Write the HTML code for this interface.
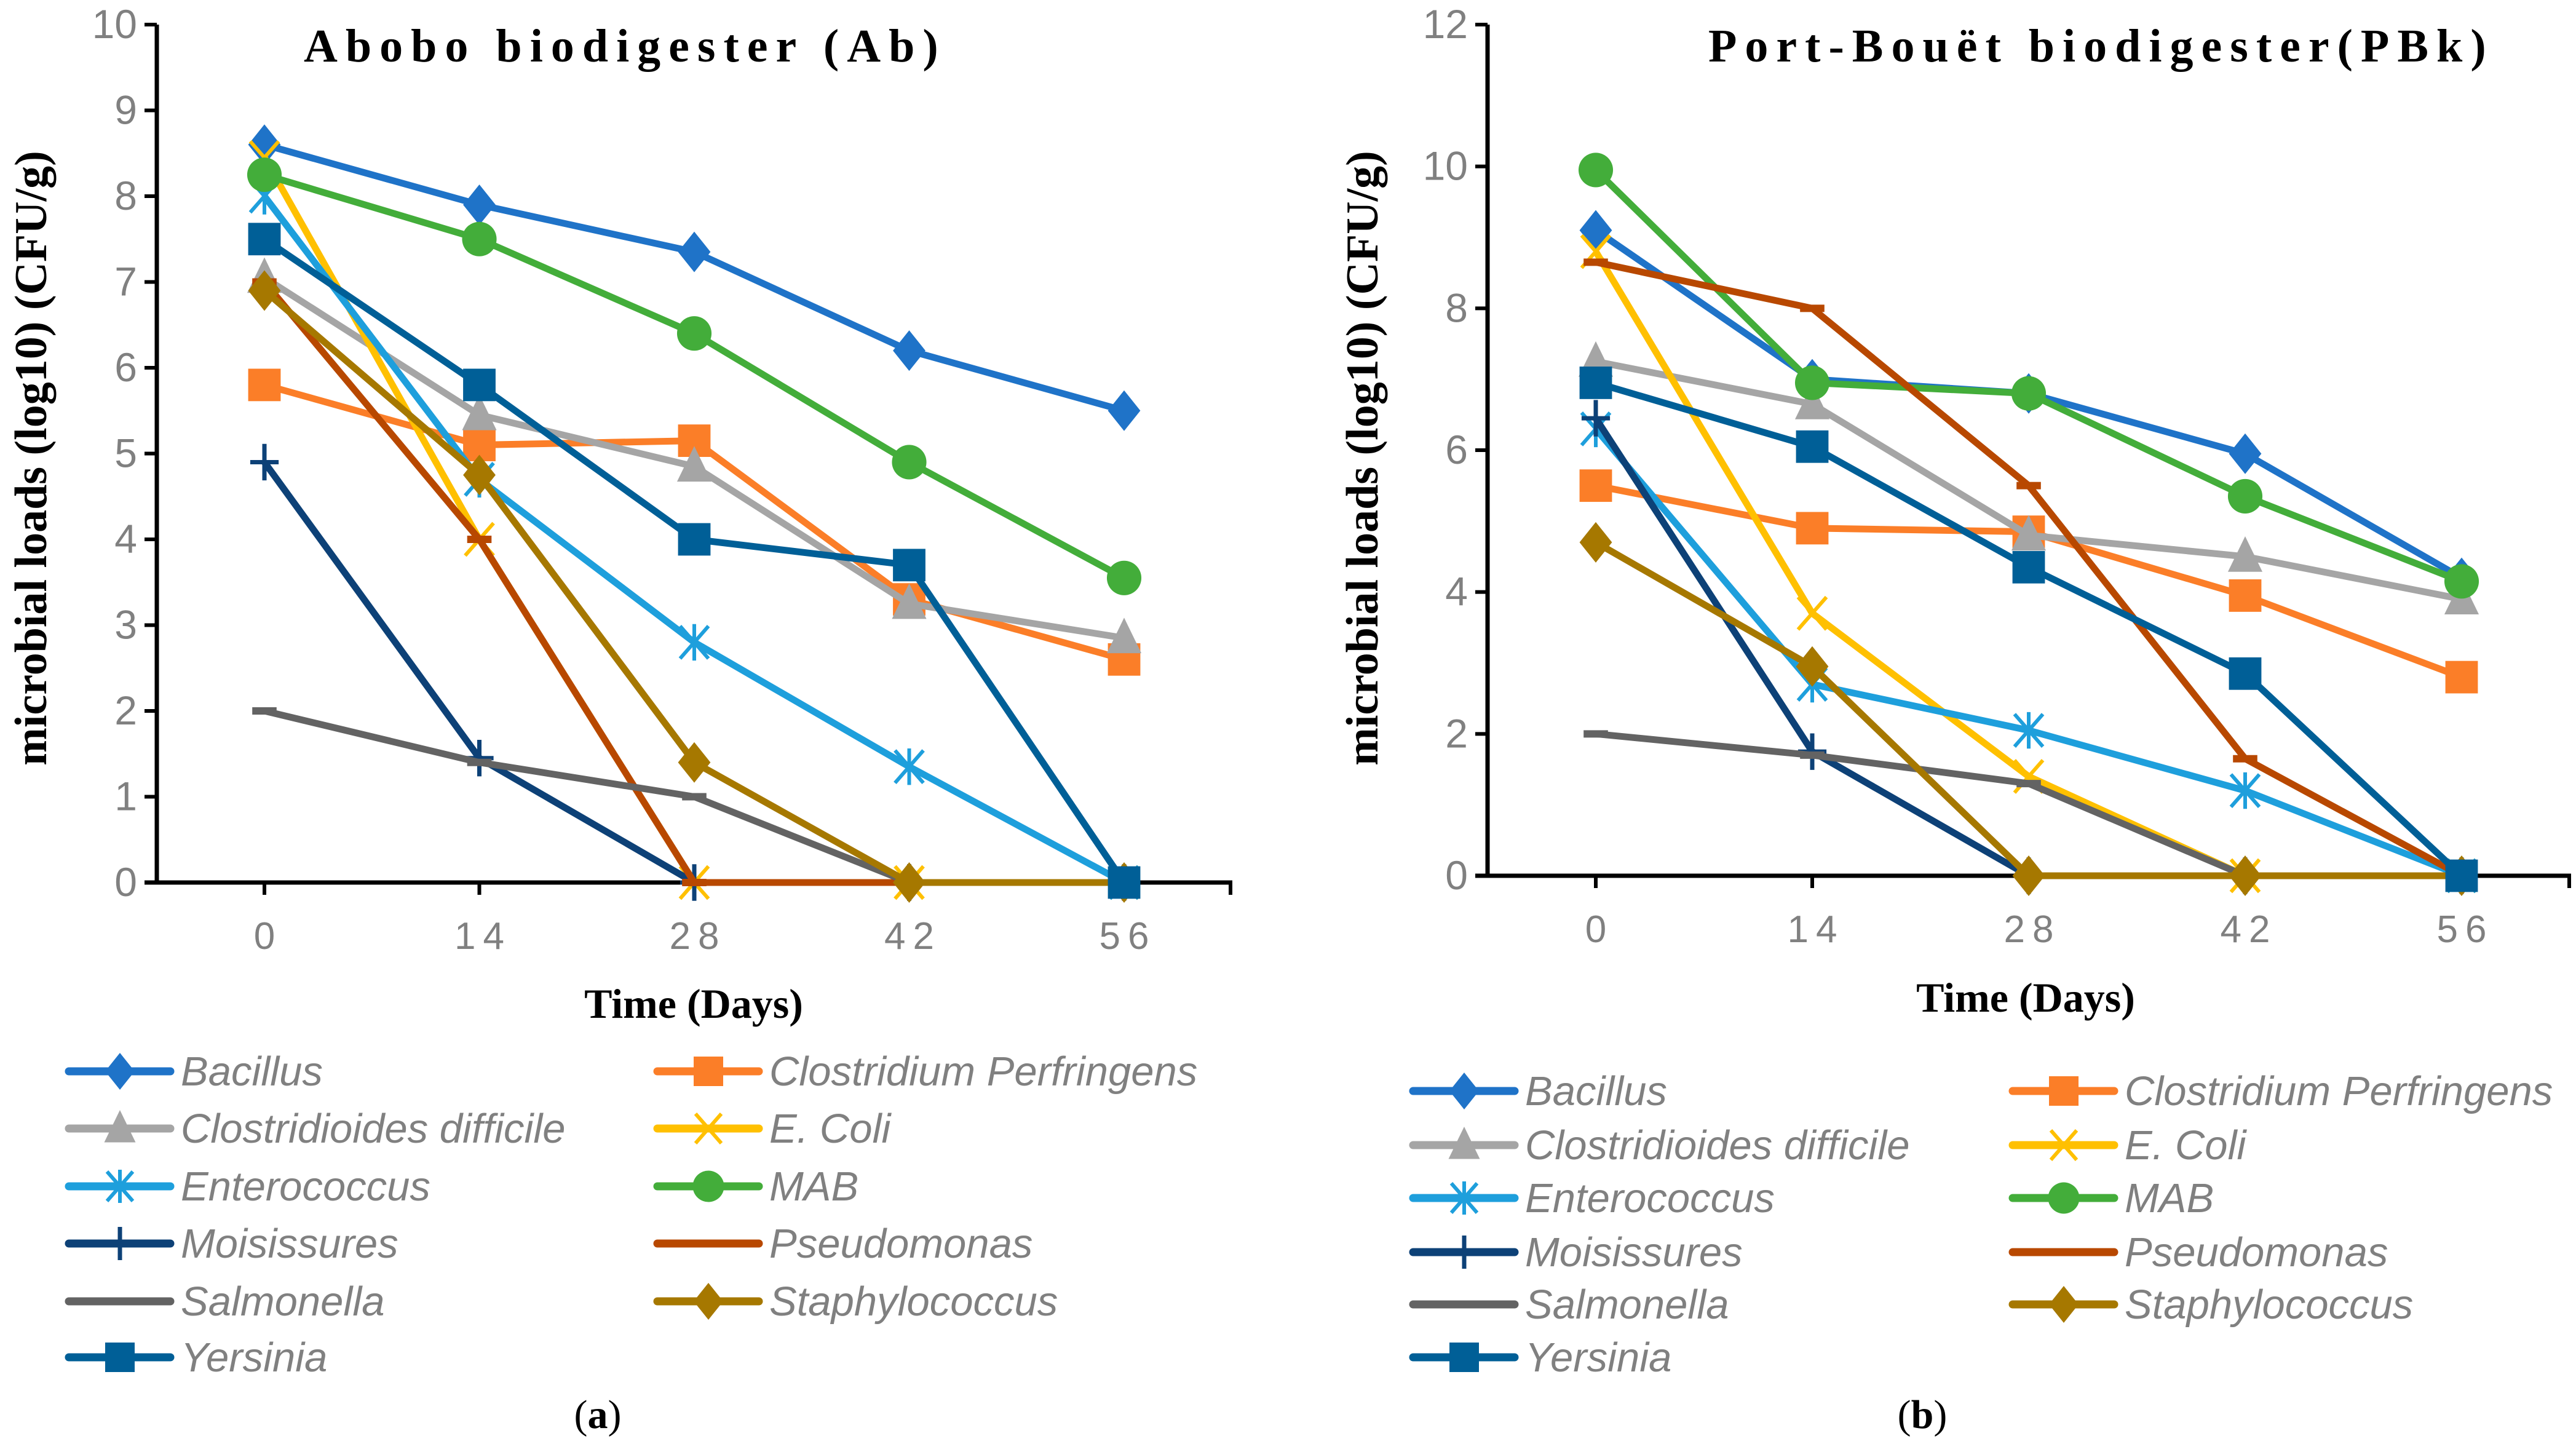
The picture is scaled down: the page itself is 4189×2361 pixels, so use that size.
<!DOCTYPE html>
<html><head><meta charset="utf-8"><style>
html,body{margin:0;padding:0;background:#fff}
svg{display:block}
</style></head><body>
<svg id="chart" width="4189" height="2361" viewBox="0 0 4189 2361" xmlns="http://www.w3.org/2000/svg"></svg>
<script>
const categories = [0, 14, 28, 42, 56];
const seriesNames = ["Bacillus","Clostridium Perfringens","Clostridioides difficile","E. Coli","Enterococcus","MAB","Moisissures","Pseudomonas","Salmonella","Staphylococcus","Yersinia"];
const abBacillus = [8.6, 7.9, 7.35, 6.2, 5.5];
const abClostridium = [5.8, 5.1, 5.15, 3.3, 2.6];
const abClostridioides = [7.05, 5.45, 4.85, 3.25, 2.85];
const abEcoli = [8.45, 4.0, 0, 0, 0];
const abEnterococcus = [8.0, 4.7, 2.8, 1.35, 0];
const abMAB = [8.25, 7.5, 6.4, 4.9, 3.55];
const abMoisissures = [4.9, 1.45, 0, 0, 0];
const abPseudomonas = [7.0, 4.0, 0, 0, 0];
const abSalmonella = [2.0, 1.4, 1.0, 0, 0];
const abStaph = [6.9, 4.75, 1.4, 0, 0];
const abYersinia = [7.5, 5.8, 4.0, 3.7, 0];
const pbBacillus = [9.1, 7.0, 6.8, 5.95, 4.2];
const pbClostridium = [5.5, 4.9, 4.85, 3.95, 2.8];
const pbClostridioides = [7.25, 6.65, 4.8, 4.5, 3.9];
const pbEcoli = [8.8, 3.7, 1.4, 0, 0];
const pbEnterococcus = [6.3, 2.7, 2.05, 1.2, 0];
const pbMAB = [9.95, 6.95, 6.8, 5.35, 4.15];
const pbMoisissures = [6.45, 1.75, 0, 0, 0];
const pbPseudomonas = [8.65, 8.0, 5.5, 1.65, 0];
const pbSalmonella = [2.0, 1.7, 1.3, 0, 0];
const pbStaph = [4.7, 2.95, 0, 0, 0];
const pbYersinia = [6.95, 6.05, 4.35, 2.85, 0];
const abTicks = [0,1,2,3,4,5,6,7,8,9,10];
const pbTicks = [0,2,4,6,8,10,12];

const colors = ["#1f73c8","#fb7e28","#a5a5a5","#ffc000","#1e9fdc","#43ad3a","#0d4177","#b84800","#636363","#a67800","#005f97"];
const markers = ["diamond","square","triangle","x","star","circle","plus","dash","dash","diamond","square"];

const NS = "http://www.w3.org/2000/svg";
const svg = document.getElementById("chart");
function el(tag, attrs, parent, text){
  const e = document.createElementNS(NS, tag);
  for (const k in attrs) e.setAttribute(k, attrs[k]);
  if (text !== undefined) e.textContent = text;
  (parent || svg).appendChild(e);
  return e;
}

function marker(g, type, x, y, c, s){
  let m;
  if (type==="diamond") m = el("polygon",{points:`${x},${y-s} ${x+s*0.8},${y} ${x},${y+s} ${x-s*0.8},${y}`,fill:c},g);
  else if (type==="square") m = el("rect",{x:x-s*0.8,y:y-s*0.8,width:s*1.6,height:s*1.6,fill:c},g);
  else if (type==="circle") m = el("circle",{cx:x,cy:y,r:s*0.85,fill:c},g);
  else if (type==="triangle") m = el("polygon",{points:`${x},${y-s} ${x+s*0.85},${y+s*0.75} ${x-s*0.85},${y+s*0.75}`,fill:c},g);
  else if (type==="x") m = el("path",{d:`M${x-s*0.7},${y-s*0.8}L${x+s*0.7},${y+s*0.8}M${x+s*0.7},${y-s*0.8}L${x-s*0.7},${y+s*0.8}`,stroke:c,"stroke-width":6,fill:"none"},g);
  else if (type==="star") m = el("path",{d:`M${x-s*0.7},${y-s*0.8}L${x+s*0.7},${y+s*0.8}M${x+s*0.7},${y-s*0.8}L${x-s*0.7},${y+s*0.8}M${x},${y-s*0.9}L${x},${y+s*0.9}`,stroke:c,"stroke-width":6,fill:"none"},g);
  else if (type==="plus") m = el("path",{d:`M${x-s*0.7},${y}L${x+s*0.7},${y}M${x},${y-s*0.9}L${x},${y+s*0.9}`,stroke:c,"stroke-width":7,fill:"none"},g);
  else if (type==="dash") m = el("path",{d:`M${x-s*0.6},${y}L${x+s*0.6},${y}`,stroke:c,"stroke-width":12,fill:"none"},g);
  return m;
}

function drawChart(cfg){
  const g = el("g",{});
  
  
  const xS = v => cfg.x0 + (cfg.x1 - cfg.x0) * categories.indexOf(v) / (categories.length - 1);
  const yS = v => cfg.yBottom - (cfg.yBottom - cfg.yTop) * v / cfg.yMax;
  const ya = el("line",{x1:cfg.axisX,y1:yS(cfg.yMax),x2:cfg.axisX,y2:cfg.yBottom,stroke:"#000","stroke-width":7},g);
  
  
  const xa = el("line",{x1:cfg.axisX-20,y1:cfg.yBottom,x2:cfg.axisEnd,y2:cfg.yBottom,stroke:"#000","stroke-width":7},g);
  
  
  cfg.ticks.forEach(t=>{
    el("line",{x1:cfg.axisX-20,y1:yS(t),x2:cfg.axisX,y2:yS(t),stroke:"#000","stroke-width":6},g);
    const tl = el("text",{x:cfg.axisX-32,y:yS(t)+22,"text-anchor":"end","font-family":"Liberation Sans Narrow, Liberation Sans, sans-serif","font-size":66,fill:"#808080"},g,String(t));
    
    
  });
  categories.forEach(c=>{
    el("line",{x1:xS(c),y1:cfg.yBottom,x2:xS(c),y2:cfg.yBottom+20,stroke:"#000","stroke-width":6},g);
    const tl = el("text",{x:xS(c)+6,y:cfg.yBottom+108,"text-anchor":"middle","font-family":"Liberation Sans, sans-serif","font-size":62,fill:"#808080","letter-spacing":12},g,String(c));
    
    
  });
  el("line",{x1:cfg.axisEnd-3,y1:cfg.yBottom,x2:cfg.axisEnd-3,y2:cfg.yBottom+20,stroke:"#000","stroke-width":6},g);
  cfg.data.forEach((arr,i)=>{
    const sg = el("g",{},g);
    
    
    const pts = arr.map((v,j)=>xS(categories[j])+","+yS(v)).join(" ");
    el("polyline",{points:pts,fill:"none",stroke:colors[i],"stroke-width":11,"stroke-linejoin":"round"},sg);
    arr.forEach((v,j)=>{
      const m = marker(sg, markers[i], xS(categories[j]), yS(v), colors[i], 33);
      
      
    });
  });
  const t = el("text",{x:cfg.titleX,y:100,"font-family":"Liberation Serif, serif","font-weight":"bold","font-size":76,"letter-spacing":cfg.titleLS,fill:"#000"},g,cfg.title);
  
  
  const xl = el("text",{x:cfg.xLabelX,y:cfg.xLabelY,"text-anchor":"middle","font-family":"Liberation Serif, serif","font-weight":"bold","font-size":68,fill:"#000"},g,"Time (Days)");
  
  
  const yl = el("text",{x:0,y:0,transform:`translate(${cfg.yLabelX},${cfg.yLabelY}) rotate(-90)`,"text-anchor":"middle","font-family":"Liberation Serif, serif","font-weight":"bold","font-size":74,fill:"#000"},g,"microbial loads (log10) (CFU/g)");
  
  
  const lg = el("g",{},g);
  
  
  seriesNames.forEach((n,i)=>{
    const col = i%2, row = Math.floor(i/2);
    const lx = col===0 ? cfg.legX0 : cfg.legX1;
    const ly = cfg.legRows[row];
    const eg = el("g",{},lg);
    
    
    el("line",{x1:lx,y1:ly,x2:lx+165,y2:ly,stroke:colors[i],"stroke-width":13,"stroke-linecap":"round"},eg);
    marker(eg, markers[i], lx+83, ly, colors[i], 30);
    el("text",{x:lx+182,y:ly+23,"font-family":"Liberation Sans, sans-serif","font-style":"italic","font-size":67,fill:"#808080"},eg,n);
  });
  const cap = el("text",{x:cfg.capX,y:2322,"text-anchor":"middle","font-family":"Liberation Serif, serif","font-size":66,fill:"#000"},g);
  
  
  el("tspan",{},cap,"(");
  el("tspan",{"font-weight":"bold"},cap,cfg.cap);
  el("tspan",{},cap,")");
}

drawChart({name:"chart-abobo",x0:430,x1:1828,axisX:255,axisEnd:2004,yTop:40,yBottom:1435,yMax:10,ticks:abTicks,
  data:[abBacillus,abClostridium,abClostridioides,abEcoli,abEnterococcus,abMAB,abMoisissures,abPseudomonas,abSalmonella,abStaph,abYersinia],
  title:"Abobo biodigester (Ab)",titleX:494,titleLS:13,xLabelX:1128,xLabelY:1655,yLabelX:75,yLabelY:745,
  legX0:112,legX1:1069,legRows:[1742,1835,1929,2022,2116,2207],capX:972,cap:"a"});
drawChart({name:"chart-port-bouet",x0:2595,x1:4003,axisX:2419,axisEnd:4181,yTop:40,yBottom:1424,yMax:12,ticks:pbTicks,
  data:[pbBacillus,pbClostridium,pbClostridioides,pbEcoli,pbEnterococcus,pbMAB,pbMoisissures,pbPseudomonas,pbSalmonella,pbStaph,pbYersinia],
  title:"Port-Bouët biodigester(PBk)",titleX:2778,titleLS:13,xLabelX:3294,xLabelY:1645,yLabelX:2240,yLabelY:745,
  legX0:2298,legX1:3273,legRows:[1774,1862,1948,2036,2121,2207],capX:3126,cap:"b"});
</script>
</body></html>
